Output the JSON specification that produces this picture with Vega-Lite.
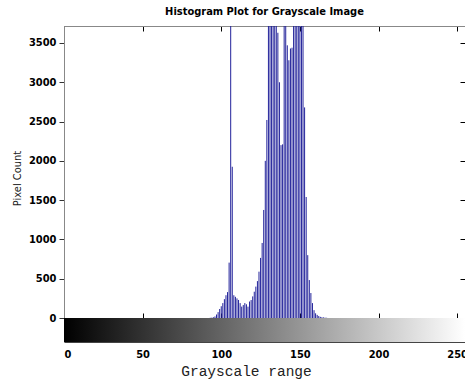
{
  "$schema": "https://vega.github.io/schema/vega-lite/v6.json",
  "autosize": {"type": "none"},
  "width": 401,
  "height": 316,
  "padding": {"left": 64, "top": 26, "right": 0, "bottom": 41},
  "background": "white",
  "title": {
    "text": "Histogram Plot for Grayscale Image",
    "font": "Liberation Sans Narrow, Arial Narrow, DejaVu Sans Condensed, sans-serif",
    "fontSize": 11,
    "fontWeight": "bold",
    "color": "black",
    "anchor": "middle",
    "offset": 9
  },
  "config": {
    "view": {"stroke": null},
    "axis": {
      "labelFont": "Liberation Sans Narrow, Arial Narrow, DejaVu Sans Condensed, sans-serif",
      "labelFontSize": 11,
      "labelFontWeight": "bold",
      "labelColor": "black",
      "grid": false
    }
  },
  "datasets": {
    "hist": [
      {"level": 93, "count": 3}, {"level": 94, "count": 5}, {"level": 95, "count": 10},
      {"level": 96, "count": 20}, {"level": 97, "count": 45}, {"level": 98, "count": 75},
      {"level": 99, "count": 115}, {"level": 100, "count": 150}, {"level": 101, "count": 190},
      {"level": 102, "count": 240}, {"level": 103, "count": 290}, {"level": 104, "count": 330},
      {"level": 105, "count": 705}, {"level": 106, "count": 4300}, {"level": 107, "count": 1925},
      {"level": 108, "count": 290}, {"level": 109, "count": 270}, {"level": 110, "count": 250},
      {"level": 111, "count": 230}, {"level": 112, "count": 190}, {"level": 113, "count": 145},
      {"level": 114, "count": 165}, {"level": 115, "count": 190}, {"level": 116, "count": 175},
      {"level": 117, "count": 145}, {"level": 118, "count": 210}, {"level": 119, "count": 229},
      {"level": 120, "count": 275}, {"level": 121, "count": 335}, {"level": 122, "count": 400},
      {"level": 123, "count": 470}, {"level": 124, "count": 590}, {"level": 125, "count": 765},
      {"level": 126, "count": 955}, {"level": 127, "count": 1375}, {"level": 128, "count": 2000},
      {"level": 129, "count": 2520}, {"level": 130, "count": 4100}, {"level": 131, "count": 4500},
      {"level": 132, "count": 4800}, {"level": 133, "count": 4600}, {"level": 134, "count": 4300},
      {"level": 135, "count": 3900}, {"level": 136, "count": 3630}, {"level": 137, "count": 3000},
      {"level": 138, "count": 2200}, {"level": 139, "count": 2210}, {"level": 140, "count": 4200},
      {"level": 141, "count": 4300}, {"level": 142, "count": 3470}, {"level": 143, "count": 3280},
      {"level": 144, "count": 3430}, {"level": 145, "count": 3440}, {"level": 146, "count": 3900},
      {"level": 147, "count": 4200}, {"level": 148, "count": 4500}, {"level": 149, "count": 4400},
      {"level": 150, "count": 4200}, {"level": 151, "count": 4000}, {"level": 152, "count": 3800},
      {"level": 153, "count": 2680}, {"level": 154, "count": 1540}, {"level": 155, "count": 800},
      {"level": 156, "count": 483}, {"level": 157, "count": 318}, {"level": 158, "count": 190},
      {"level": 159, "count": 100}, {"level": 160, "count": 60}, {"level": 161, "count": 40},
      {"level": 162, "count": 25}, {"level": 163, "count": 15}, {"level": 164, "count": 10},
      {"level": 165, "count": 8}, {"level": 166, "count": 5}, {"level": 167, "count": 3}
    ]
  },
  "layer": [
    {
      "data": {"values": [{}]},
      "mark": {
        "type": "rect",
        "fill": {
          "gradient": "linear", "x1": 0, "y1": 0, "x2": 1, "y2": 0,
          "stops": [{"offset": 0, "color": "#000000"}, {"offset": 1, "color": "#ffffff"}]
        }
      },
      "encoding": {
        "x": {
          "datum": 0, "type": "quantitative",
          "scale": {"domain": [0, 255], "nice": false, "zero": false},
          "axis": {
            "orient": "bottom", "values": [0, 50, 100, 150, 200, 250],
            "tickSize": 0, "labelPadding": 6, "domainColor": "#444444",
            "title": "Grayscale range",
            "titleFont": "Liberation Mono, Courier New, monospace",
            "titleFontSize": 14.5, "titleFontWeight": "normal", "titleColor": "#222222",
            "titlePadding": 5, "titleX": 182
          }
        },
        "x2": {"datum": 255},
        "y": {
          "datum": -305, "type": "quantitative",
          "scale": {"domain": [-305, 3716], "nice": false, "zero": false},
          "axis": {
            "orient": "left", "values": [0, 500, 1000, 1500, 2000, 2500, 3000, 3500],
            "format": "d",
            "tickSize": 5, "tickColor": "#333333", "labelPadding": 3,
            "domainColor": "#888888",
            "title": "Pixel Count",
            "titleFont": "Liberation Sans Narrow, Arial Narrow, DejaVu Sans Condensed, sans-serif",
            "titleFontSize": 11, "titleFontWeight": "normal", "titleColor": "#222222",
            "titlePadding": 6, "titleY": 152
          }
        },
        "y2": {"datum": 0}
      }
    },
    {
      "data": {"name": "hist"},
      "mark": {"type": "rule", "clip": true, "color": "#22229a", "strokeWidth": 1},
      "encoding": {
        "x": {
          "field": "level", "type": "quantitative",
          "axis": {
            "orient": "bottom", "offset": -24, "values": [0, 50, 100, 150, 200, 250],
            "labels": false, "tickSize": -5, "tickColor": "black",
            "domainColor": "#444444", "title": null
          }
        },
        "y": {
          "field": "count", "type": "quantitative",
          "axis": {
            "orient": "right", "values": [-152, 500, 1000, 1500, 2000, 2500, 3000, 3500],
            "labels": false, "tickSize": -5, "tickColor": "black",
            "domain": false, "title": null
          }
        },
        "y2": {"datum": 0}
      }
    },
    {
      "data": {"values": [{}]},
      "mark": {"type": "rule", "opacity": 0},
      "encoding": {
        "x": {
          "datum": 0, "type": "quantitative",
          "axis": {
            "orient": "top", "values": [0, 50, 100, 150, 200, 250],
            "labels": false, "tickSize": -5, "tickColor": "black",
            "domainColor": "#888888", "title": null
          }
        }
      }
    }
  ],
  "resolve": {"axis": {"x": "independent", "y": "independent"}}
}
